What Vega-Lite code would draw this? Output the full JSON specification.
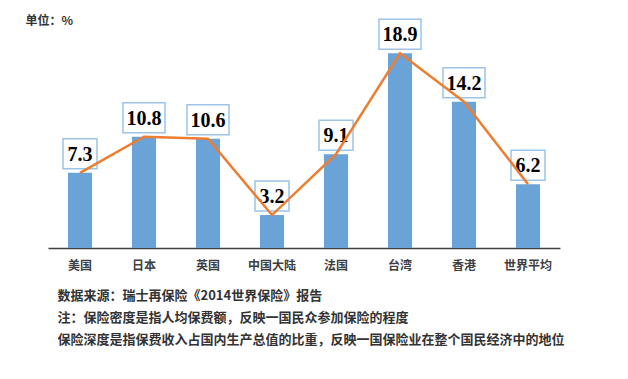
{
  "$schema": "https://vega.github.io/schema/vega-lite/v6.json",
  "width": 512,
  "height": 206,
  "autosize": {"type": "none"},
  "padding": {"left": 48, "top": 42, "right": 68, "bottom": 131},
  "background": "white",
  "config": {"view": {"stroke": null}},
  "data": {
    "values": [
      {"region": "美国", "v": 7.3},
      {"region": "日本", "v": 10.8},
      {"region": "英国", "v": 10.6},
      {"region": "中国大陆", "v": 3.2},
      {"region": "法国", "v": 9.1},
      {"region": "台湾", "v": 18.9},
      {"region": "香港", "v": 14.2},
      {"region": "世界平均", "v": 6.2}
    ]
  },
  "transform": [
    {"calculate": "datum.v >= 10 ? 'wide' : 'narrow'", "as": "boxType"},
    {"calculate": "format(datum.v, '.1f')", "as": "label"}
  ],
  "encoding": {
    "x": {
      "field": "region",
      "type": "nominal",
      "sort": null,
      "scale": {"paddingInner": 0.625, "paddingOuter": 0.3125},
      "axis": {
        "labelAngle": 0,
        "labelFont": "Noto Sans CJK SC",
        "labelFontSize": 12,
        "labelFontWeight": "bold",
        "labelColor": "#404040",
        "labelPadding": 12,
        "ticks": false,
        "domainColor": "#404040",
        "domainWidth": 1.5,
        "title": [
          "数据来源：瑞士再保险《2014世界保险》报告",
          "注：保险密度是指人均保费额，反映一国民众参加保险的程度",
          "保险深度是指保费收入占国内生产总值的比重，反映一国保险业在整个国民经济中的地位"
        ],
        "titleFont": "Noto Sans CJK SC",
        "titleFontSize": 13,
        "titleFontWeight": "bold",
        "titleColor": "#333333",
        "titleAnchor": "start",
        "titleAlign": "left",
        "titleBaseline": "top",
        "titleLineHeight": 22,
        "titleX": 9,
        "titleY": 41
      }
    },
    "y": {
      "field": "v",
      "type": "quantitative",
      "scale": {"domain": [0, 20]},
      "axis": {
        "labels": false,
        "ticks": false,
        "domain": false,
        "grid": false,
        "title": "单位：%",
        "titleFont": "Noto Sans CJK SC",
        "titleFontSize": 12,
        "titleFontWeight": "bold",
        "titleColor": "#333333",
        "titleAngle": 0,
        "titleAlign": "left",
        "titleBaseline": "middle",
        "titleAnchor": "start",
        "titleX": -23,
        "titleY": -22
      }
    }
  },
  "layer": [
    {"mark": {"type": "bar", "color": "#6aa3d8"}},
    {
      "mark": {"type": "point", "filled": true, "fill": "white", "stroke": "#9dc3e6", "strokeWidth": 1.5, "opacity": 1, "fillOpacity": 1, "size": 900, "yOffset": -19},
      "encoding": {
        "shape": {
          "field": "boxType",
          "type": "nominal",
          "scale": {
            "domain": ["narrow", "wide"],
            "range": ["M-1.133,-1L1.133,-1L1.133,1L-1.133,1Z", "M-1.4,-1L1.4,-1L1.4,1L-1.4,1Z"]
          },
          "legend": null
        }
      }
    },
    {
      "mark": {"type": "text", "font": "Liberation Serif", "fontSize": 20, "fontWeight": "bold", "color": "#000000", "baseline": "middle", "yOffset": -18},
      "encoding": {"text": {"field": "label"}}
    },
    {
      "mark": {"type": "line", "color": "#ed7d31", "strokeWidth": 2.5}
    }
  ]
}
